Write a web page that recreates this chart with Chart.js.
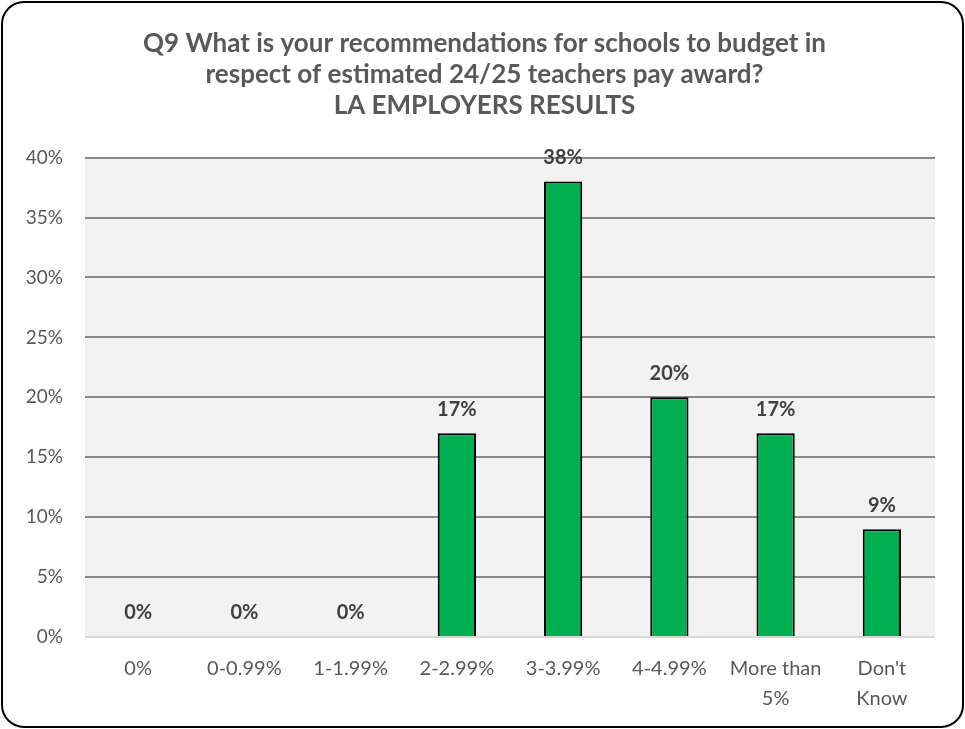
<!DOCTYPE html>
<html>
<head>
<meta charset="utf-8">
<script src="https://cdn.jsdelivr.net/npm/chart.js@4.4.1/dist/chart.umd.min.js"></script>
<style>
  html, body { margin: 0; padding: 0; background: #ffffff; }
  #wrap { width: 965px; height: 729px; position: relative; }
</style>
</head>
<body>
<div id="wrap"><canvas id="graph"></canvas></div>
<script>
// chart data
const categories = ['0%', '0-0.99%', '1-1.99%', '2-2.99%', '3-3.99%', '4-4.99%', ['More than', '5%'], ["Don't", 'Know']];
const percentValues = [0, 0, 0, 17, 38, 20, 17, 9];
const yTicks = [0, 5, 10, 15, 20, 25, 30, 35, 40];
const titleLines = [
    'Q9 What is your recommendations for schools to budget in',
    'respect of estimated 24/25 teachers pay award?',
    'LA EMPLOYERS RESULTS'
];

const fontName = 'Lato, "Open Sans", sans-serif';

// grey plot background + rounded frame
const framePlugin = {
    id: 'frame',
    beforeDraw(chart) {
        const c = chart.ctx, a = chart.chartArea;
        c.save();
        c.fillStyle = '#ffffff';
        c.fillRect(0, 0, chart.width, chart.height);
        c.fillStyle = '#f2f2f2';
        c.fillRect(a.left, a.top, a.right - a.left, a.bottom - a.top);
        c.restore();
    },
    afterDraw(chart) {
        const c = chart.ctx;
        c.save();
        c.strokeStyle = '#000000';
        c.lineWidth = 2;
        c.beginPath();
        c.roundRect(2, 2, chart.width - 4, chart.height - 4, 22);
        c.stroke();
        c.restore();
    }
};

// value labels above the bars
const valueLabels = {
    id: 'valueLabels',
    afterDatasetsDraw(chart) {
        const c = chart.ctx;
        const meta = chart.getDatasetMeta(0);
        c.save();
        c.font = 'bold 20px ' + fontName;
        c.fillStyle = '#404040';
        c.textAlign = 'center';
        c.textBaseline = 'middle';
        meta.data.forEach((bar, i) => {
            c.fillText(percentValues[i] + '%', bar.x, bar.y - 24);
        });
        c.restore();
    }
};

const ctx = document.getElementById('graph').getContext('2d');
const chart = new Chart(ctx, {
    type: 'bar',
    data: {
        labels: categories,
        datasets: [{
            data: percentValues,
            backgroundColor: '#00b050',
            borderColor: '#000000',
            borderWidth: 2,
            borderSkipped: 'bottom',
            categoryPercentage: 1,
            barPercentage: 0.36
        }]
    },
    options: {
        responsive: true,
        maintainAspectRatio: false,
        animation: false,
        layout: { padding: { top: 28, right: 13, left: 17, bottom: 0 } },
        plugins: {
            legend: { display: false },
            tooltip: { enabled: false },
            title: {
                display: true,
                text: titleLines,
                color: '#595959',
                font: { family: fontName, size: 26, weight: 'bold', lineHeight: 1.2 },
                padding: { top: 0, bottom: 36 }
            }
        },
        scales: {
            x: {
                grid: { display: false, drawTicks: false },
                border: { display: false },
                ticks: {
                    color: '#595959',
                    font: { family: fontName, size: 20, lineHeight: 1.5 },
                    padding: 17,
                    maxRotation: 0,
                    autoSkip: false
                },
                afterFit(scale) { scale.height = 92; }
            },
            y: {
                min: 0,
                max: 40,
                afterBuildTicks(scale) { scale.ticks = yTicks.map(v => ({ value: v })); },
                grid: {
                    color: (c) => c.index === 0 ? '#d9d9d9' : '#898989',
                    lineWidth: 2,
                    drawTicks: false
                },
                border: { display: false },
                ticks: {
                    color: '#595959',
                    font: { family: fontName, size: 19 },
                    padding: 22,
                    callback: (v) => v + '%'
                },
                afterFit(scale) { scale.width = 68; }
            },
            // empty right-hand axis, only to keep the plot area off the right edge
            yRight: {
                position: 'right',
                min: 0,
                max: 40,
                grid: { display: false, drawTicks: false },
                border: { display: false },
                ticks: { display: false },
                afterFit(scale) { scale.width = 17; }
            }
        }
    },
    plugins: [framePlugin, valueLabels]
});
</script>
</body>
</html>
